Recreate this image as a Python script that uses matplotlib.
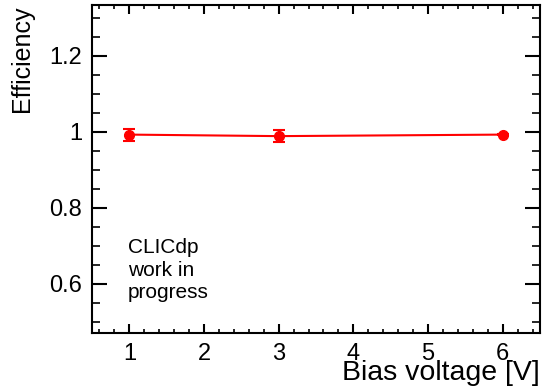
import numpy as np
import matplotlib.pyplot as plt
from matplotlib.ticker import MultipleLocator

plt.rcParams['font.family'] = ['Liberation Sans', 'DejaVu Sans']

# datos
bias = [1, 3, 6]                 # [V]
eff = [0.993, 0.989, 0.993]
eff_err = [0.016, 0.015, 0.002]

fig = plt.figure(figsize=(5.43, 3.91), dpi=100)
ax = fig.add_axes([92/543, 58/391, 448/543, 328/391])

ax.errorbar(bias, eff, yerr=eff_err, color="red", marker="o", markersize=7,
            linewidth=1.5, elinewidth=1.5, capsize=4, capthick=1.5)

ax.set_xlim(0.5, 6.5)
ax.set_ylim(0.471, 1.334)

ax.xaxis.set_major_locator(MultipleLocator(1))
ax.xaxis.set_minor_locator(MultipleLocator(0.2))
ax.yaxis.set_major_locator(MultipleLocator(0.2))
ax.yaxis.set_minor_locator(MultipleLocator(0.05))
ax.set_yticks([0.6, 0.8, 1.0, 1.2])
ax.set_yticklabels(["0.6", "0.8", "1", "1.2"])

ax.tick_params(axis="x", which="major", direction="in", length=6.8, width=1.5,
               top=True, labelsize=17, pad=7.5)
ax.tick_params(axis="x", which="minor", direction="in", length=3.2, width=1.2, top=True)
ax.tick_params(axis="y", which="major", direction="in", length=10.5, width=1.5,
               right=True, labelsize=17, pad=7)
ax.tick_params(axis="y", which="minor", direction="in", length=5.5, width=1.2, right=True)
for s in ax.spines.values():
    s.set_linewidth(1.5)

ax.set_xlabel("Bias voltage [V]", fontsize=20.5)
ax.xaxis.set_label_coords(1.0, -0.143)
ax.xaxis.label.set_horizontalalignment("right")
ax.xaxis.label.set_verticalalignment("baseline")

ax.set_ylabel("Efficiency", fontsize=18)
ax.yaxis.set_label_coords(-0.129, 1.0)
ax.yaxis.label.set_horizontalalignment("right")

ax.text(0.08, 0.29, "CLICdp\nwork in\nprogress", transform=ax.transAxes,
        fontsize=15, va="top", ha="left", linespacing=1.25)

fig.savefig("out.png", dpi=100)
